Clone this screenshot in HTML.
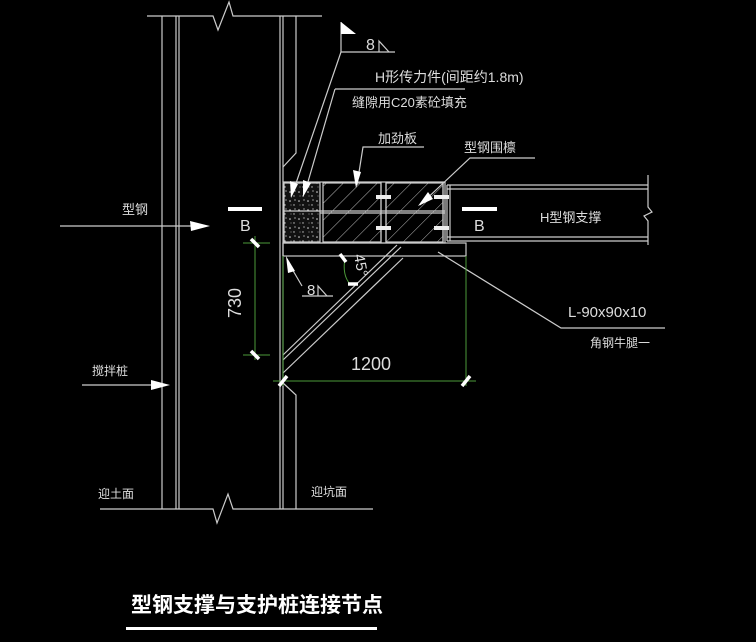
<!DOCTYPE html>
<html><head><meta charset="utf-8"><style>
html,body{margin:0;padding:0;background:#000;width:756px;height:642px;overflow:hidden}
svg{display:block}
text{font-family:"Liberation Sans","Noto Sans CJK SC",sans-serif;fill:#ddd}
</style></head><body>
<svg width="756" height="642" viewBox="0 0 756 642" xmlns="http://www.w3.org/2000/svg">
<defs>
<pattern id="h" width="12" height="12" patternUnits="userSpaceOnUse" patternTransform="rotate(45)">
<line x1="0" y1="0" x2="0" y2="12" stroke="#bbb" stroke-width="1"/></pattern>
<pattern id="c" width="9" height="9" patternUnits="userSpaceOnUse">
<rect width="9" height="9" fill="#111"/><circle cx="2" cy="3" r="0.8" fill="#ddd"/><circle cx="6" cy="7" r="0.7" fill="#ccc"/><circle cx="7" cy="2" r="0.6" fill="#eee"/><circle cx="3" cy="7" r="0.5" fill="#bbb"/></pattern>
</defs>
<g stroke="#ccc" stroke-width="1.2" fill="none">
<!-- top line with break -->
<polyline points="147,16 213,16 218,30 229,2 233,16 322,16"/>
<!-- bottom line -->
<polyline points="100,509 213,509 217,523 228,494 233,509 373,509"/>
<!-- left pile -->
<line x1="162" y1="16" x2="162" y2="509"/>
<line x1="176" y1="16" x2="176" y2="509"/>
<line x1="179" y1="16" x2="179" y2="509"/>
<!-- right pile -->
<line x1="280" y1="16" x2="280" y2="509"/>
<line x1="283" y1="16" x2="283" y2="182"/>
<polyline points="296,16 296,153 283,167"/>
<line x1="283" y1="383" x2="283" y2="509"/>
<polyline points="283,383 296,395 296,509"/>
<line x1="283" y1="243" x2="283" y2="383"/>
<!-- box -->
<rect x="283" y="182" width="162" height="61"/>
<rect x="284" y="183" width="36" height="59" fill="url(#c)" stroke="#ccc"/>
<line x1="284" y1="211" x2="320" y2="211"/>
<rect x="323" y="183" width="58" height="59" fill="url(#h)"/>
<rect x="386" y="183" width="57" height="59" fill="url(#h)"/>
<line x1="320" y1="211" x2="445" y2="211"/><line x1="320" y1="213" x2="445" y2="213"/>
<line x1="381" y1="182" x2="381" y2="243"/><line x1="386" y1="182" x2="386" y2="243"/>
<line x1="443" y1="182" x2="443" y2="243"/>
<!-- beam -->
<line x1="447" y1="185" x2="648" y2="185"/><line x1="447" y1="189" x2="648" y2="189"/>
<line x1="447" y1="237" x2="648" y2="237"/><line x1="447" y1="241" x2="648" y2="241"/>
<line x1="447" y1="185" x2="447" y2="241"/><line x1="450" y1="185" x2="450" y2="241"/>
<polyline points="648,175 648,207 652,212 644,216 648,221 648,245"/>
<!-- plate -->
<rect x="283" y="243" width="183" height="13"/>
<!-- brace -->
<line x1="283" y1="355" x2="397" y2="245"/>
<line x1="283" y1="360" x2="401" y2="247"/>
<line x1="283" y1="373" x2="403" y2="258"/>
<!-- leader L -->
<polyline points="438,252 561,328 665,328"/>
<!-- leaders top -->
<polyline points="341,22 341,52 395,52"/>
<polyline points="341,52 293,192"/>
<polyline points="335,89 465,89"/>
<polyline points="335,89 305,192"/>
<polyline points="424,147 363,147 357,185"/>
<polyline points="535,158 470,158 420,205"/>
<polyline points="389,52 379,41 379,52"/>
<polyline points="302,286 288,262"/>
<polyline points="302,296 333,296"/>
<polyline points="327,296 318,286 318,296"/>
<!-- arrows lines -->
<line x1="60" y1="226" x2="200" y2="226"/>
<line x1="82" y1="385" x2="160" y2="385"/>
</g>
<g fill="#fff" stroke="none">
<polygon points="341,22 356,34 341,34"/>
<polygon points="210,226 190,221 191,231"/>
<polygon points="170,385 151,380 151,390"/>
<polygon points="291,198 290,181 298,184"/>
<polygon points="303,197 303,180 311,183"/>
<polygon points="356,188 353,170 361,172"/>
<polygon points="418,206 428,192 433,199"/>
<polygon points="286,256 295,271 288,273"/>
<rect x="228" y="207" width="34" height="4"/>
<rect x="462" y="207" width="35" height="4"/>
<rect x="126" y="627" width="251" height="3"/>
</g>
<!-- bolts -->
<g fill="#eee">
<rect x="376" y="195" width="15" height="4"/><rect x="376" y="226" width="15" height="4"/>
<rect x="434" y="195" width="15" height="4"/><rect x="434" y="226" width="15" height="4"/>
</g>
<!-- dims -->
<g stroke="#4c9a3a" stroke-width="1" fill="none">
<line x1="255" y1="236" x2="255" y2="360"/>
<line x1="243" y1="243" x2="270" y2="243"/><line x1="243" y1="355" x2="270" y2="355"/>
<line x1="273" y1="381" x2="476" y2="381"/>
<line x1="466" y1="256" x2="466" y2="386"/>
<line x1="283" y1="256" x2="283" y2="386"/>
<path d="M345,258 Q342,275 350,284"/>
</g>
<g stroke="#fff" stroke-width="3.5">
<line x1="251" y1="239" x2="259" y2="247"/><line x1="251" y1="351" x2="259" y2="359"/>
<line x1="279" y1="386" x2="287" y2="376"/><line x1="462" y1="386" x2="470" y2="376"/>
<line x1="340" y1="254" x2="346" y2="262"/><line x1="348" y1="284" x2="358" y2="284"/>
</g>
<g font-size="14">
<text x="366" y="50" font-size="16">8</text>
<text x="375" y="82">H形传力件(间距约1.8m)</text>
<text x="352" y="107" font-size="13">缝隙用C20素砼填充</text>
<text x="378" y="143" font-size="13">加劲板</text>
<text x="464" y="152" font-size="13">型钢围檩</text>
<text x="240" y="231" font-size="16">B</text>
<text x="474" y="231" font-size="16">B</text>
<text x="540" y="222" font-size="13">H型钢支撑</text>
<text x="122" y="214" font-size="13">型钢</text>
<text x="307" y="295" font-size="15">8</text>
<text x="0" y="0" font-size="15" transform="translate(354,255) rotate(80)">45°</text>
<text x="0" y="0" font-size="18" transform="translate(241,318) rotate(-90)">730</text>
<text x="351" y="370" font-size="18">1200</text>
<text x="568" y="317" font-size="15">L-90x90x10</text>
<text x="590" y="347" font-size="12">角钢牛腿一</text>
<text x="92" y="375" font-size="12">搅拌桩</text>
<text x="98" y="498" font-size="12">迎土面</text>
<text x="311" y="496" font-size="12">迎坑面</text>
<text x="131" y="612" font-size="21" font-weight="bold" style="fill:#fff">型钢支撑与支护桩连接节点</text>
</g>
</svg>
</body></html>
